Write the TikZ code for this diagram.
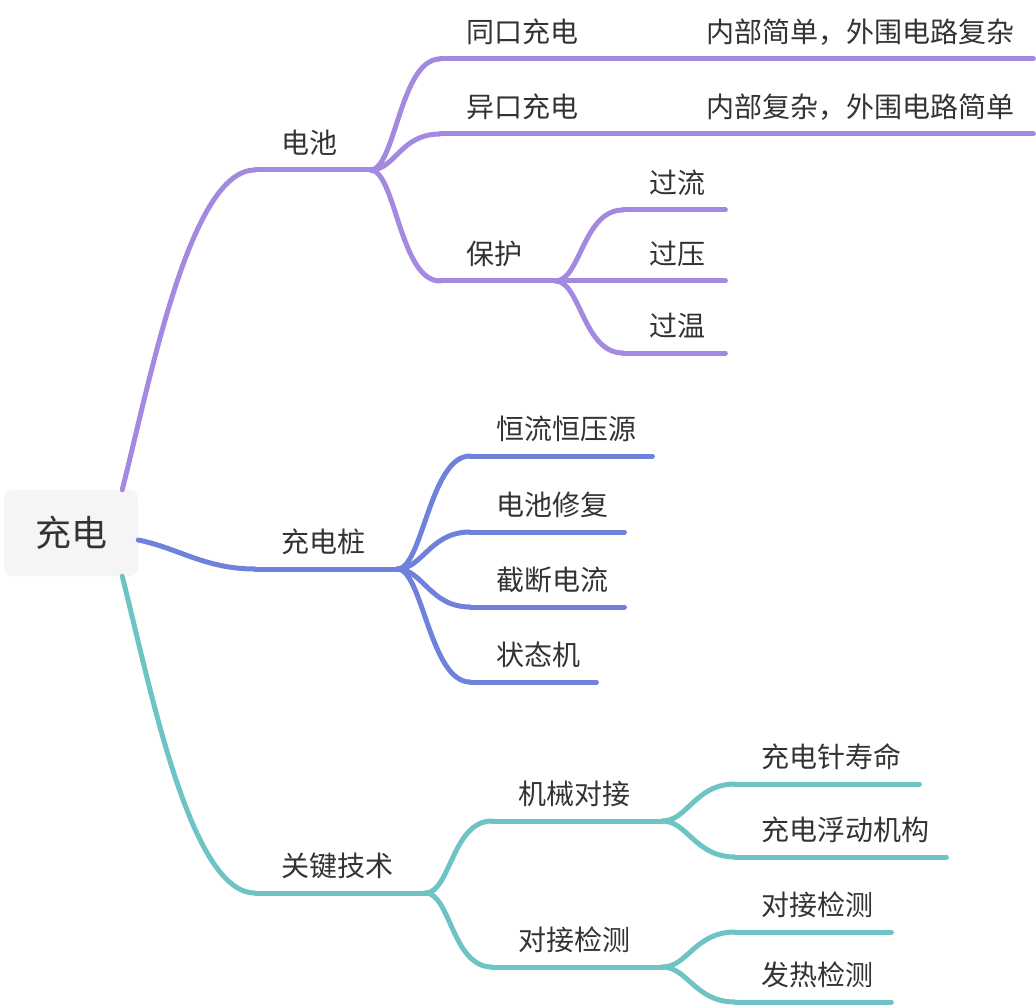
\documentclass[tikz,border=0pt]{standalone}
\usepackage{fontspec}
\newfontfamily\cjk{Noto Sans CJK SC}
\usetikzlibrary{positioning}
\definecolor{brPurple}{RGB}{163,137,224}
\definecolor{brBlue}{RGB}{111,129,219}
\definecolor{brTeal}{RGB}{110,196,196}
\definecolor{txtGray}{RGB}{51,51,51}
\definecolor{rootFill}{RGB}{245,245,245}

\begin{document}
\begin{tikzpicture}[x=1pt, y=-1pt,
  topic/.style={anchor=south west, inner xsep=26pt, inner ysep=11pt,
                text height=22pt, text depth=5pt, align=left, text width=#1,
                text=txtGray, font=\cjk\fontsize{28}{33}\selectfont},
  branch/.style={line width=5pt, line cap=round, draw=#1}]
  \useasboundingbox (0,0) rectangle (1036,1008);

  % root
  \node[fill=rootFill, rounded corners=8pt, minimum width=134pt, minimum height=86pt,
        text=txtGray, font=\cjk\fontsize{36}{42}\selectfont] (root) at (71,533) {充电};

  % main topics
  \node[topic=63pt]  (battery) at (255,170) {电池};
  \node[topic=90pt]  (pile)    at (255,569) {充电桩};
  \node[topic=118pt] (tech)    at (255,893) {关键技术};

  % battery
  \node[topic=188pt] (same)     at (440,59)  {同口充电};
  \node[topic=301pt] (sameNote) at (680,59)  {内部简单，外围电路复杂};
  \node[topic=188pt] (diff)     at (440,134) {异口充电};
  \node[topic=301pt] (diffNote) at (680,134) {内部复杂，外围电路简单};
  \node[topic=63pt]  (protect)  at (440,281) {保护};
  \node[topic=50pt]  (overCur)  at (623,210) {过流};
  \node[topic=50pt]  (overVol)  at (623,281) {过压};
  \node[topic=50pt]  (overTemp) at (623,353) {过温};

  % charging pile
  \node[topic=130pt] (cccv)   at (470,456) {恒流恒压源};
  \node[topic=102pt] (repair) at (470,532) {电池修复};
  \node[topic=102pt] (cutoff) at (470,607) {截断电流};
  \node[topic=74pt]  (fsm)    at (470,682) {状态机};

  % key techniques
  \node[topic=118pt] (mech)    at (492,821)  {机械对接};
  \node[topic=118pt] (dock)    at (492,967)  {对接检测};
  \node[topic=132pt] (pinLife) at (735,784)  {充电针寿命};
  \node[topic=159pt] (float)   at (735,857)  {充电浮动机构};
  \node[topic=104pt] (dockDet) at (735,932)  {对接检测};
  \node[topic=104pt] (heat)    at (735,1002) {发热检测};

  % underlines
  \foreach \n/\c in {battery/brPurple, same/brPurple, sameNote/brPurple, diff/brPurple,
                     diffNote/brPurple, protect/brPurple, overCur/brPurple, overVol/brPurple,
                     overTemp/brPurple, pile/brBlue, cccv/brBlue, repair/brBlue,
                     cutoff/brBlue, fsm/brBlue, tech/brTeal, mech/brTeal, dock/brTeal,
                     pinLife/brTeal, float/brTeal, dockDet/brTeal, heat/brTeal}
    \draw[branch=\c] (\n.south west) -- (\n.south east);

  % from the root
  \draw[branch=brPurple] ([xshift=-16pt]root.north east) .. controls +(28,-110) and +(-65,0) .. (battery.south west);
  \draw[branch=brBlue] ([yshift=-7pt]root.east) .. controls +(40,8) and +(-50,0) .. (pile.south west);
  \draw[branch=brTeal] ([xshift=-16pt]root.south east) .. controls +(28,110) and +(-65,0) .. (tech.south west);

  % forks
  \foreach \a/\b/\c in {battery/same/brPurple, battery/diff/brPurple, battery/protect/brPurple,
                        protect/overCur/brPurple, protect/overVol/brPurple, protect/overTemp/brPurple,
                        pile/cccv/brBlue, pile/repair/brBlue, pile/cutoff/brBlue, pile/fsm/brBlue,
                        tech/mech/brTeal, tech/dock/brTeal, mech/pinLife/brTeal, mech/float/brTeal,
                        dock/dockDet/brTeal, dock/heat/brTeal}
    \draw[branch=\c] (\a.south east) .. controls +(25,0) and +(-40,0) .. (\b.south west);
  \draw[branch=brPurple] (same.south east) -- (sameNote.south west);
  \draw[branch=brPurple] (diff.south east) -- (diffNote.south west);
\end{tikzpicture}
\end{document}
